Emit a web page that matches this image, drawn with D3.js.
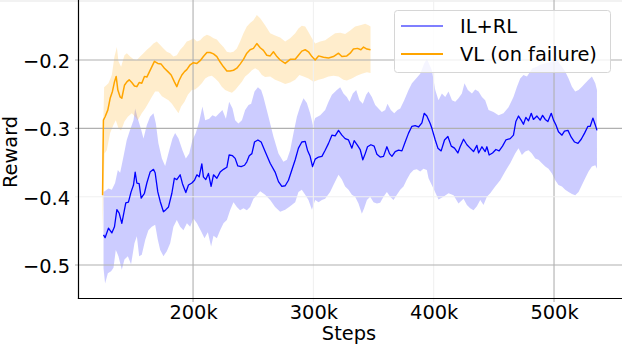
<!DOCTYPE html>
<html><head><meta charset="utf-8">
<script src="https://cdn.jsdelivr.net/npm/d3@7"></script>
<style>html,body{margin:0;padding:0;background:#fff;}svg{display:block;font-family:"DejaVu Sans",sans-serif;}</style>
</head><body><svg id="c" width="622" height="344"></svg>
<script>
// steps in thousands, reward
const xTicks = [200, 300, 400, 500];
const yTicks = [-0.5, -0.4, -0.3, -0.2];
const faintX = [300, 400];
const faintY = [-0.4];
const seriesNames = ["IL+RL", "VL (on failure)"];

const blueMean = [[125.6,-0.456],[126.9,-0.460],[129.7,-0.446],[132.5,-0.453],[134.7,-0.444],[136.7,-0.419],[138.6,-0.424],[140.8,-0.439],[144.1,-0.409],[146.3,-0.408],[148.5,-0.393],[150.5,-0.383],[151.9,-0.364],[153.3,-0.380],[155.2,-0.381],[156.9,-0.402],[159.6,-0.395],[161.6,-0.380],[164.3,-0.364],[167.1,-0.360],[168.5,-0.365],[170.7,-0.393],[172.7,-0.407],[175.4,-0.422],[177.4,-0.419],[179.6,-0.415],[182.4,-0.395],[184.5,-0.373],[186.5,-0.375],[189.3,-0.368],[191.2,-0.381],[194.0,-0.394],[196.2,-0.383],[199.0,-0.380],[201.2,-0.376],[203.2,-0.368],[205.1,-0.371],[207.3,-0.352],[208.6,-0.371],[210.6,-0.375],[212.8,-0.366],[215.0,-0.385],[217.0,-0.368],[219.8,-0.373],[222.5,-0.364],[225.3,-0.360],[228.1,-0.357],[230.0,-0.339],[232.8,-0.340],[235.0,-0.344],[237.2,-0.355],[240.0,-0.356],[242.8,-0.354],[244.7,-0.349],[246.7,-0.340],[248.9,-0.337],[251.1,-0.320],[253.9,-0.317],[256.6,-0.320],[259.9,-0.334],[264.1,-0.351],[268.2,-0.364],[271.0,-0.378],[273.8,-0.385],[276.6,-0.384],[279.3,-0.376],[282.1,-0.361],[284.9,-0.346],[287.6,-0.329],[290.4,-0.320],[293.2,-0.319],[295.1,-0.332],[297.3,-0.341],[299.3,-0.356],[301.5,-0.345],[304.3,-0.342],[307.1,-0.341],[309.8,-0.332],[312.6,-0.322],[315.4,-0.310],[318.1,-0.311],[320.9,-0.303],[323.7,-0.310],[326.4,-0.315],[329.2,-0.317],[332.0,-0.329],[333.9,-0.318],[336.7,-0.325],[338.9,-0.331],[341.1,-0.346],[343.1,-0.337],[345.0,-0.327],[347.8,-0.324],[350.5,-0.326],[352.8,-0.338],[355.5,-0.342],[358.3,-0.341],[361.1,-0.327],[363.3,-0.337],[365.3,-0.341],[368.0,-0.334],[370.8,-0.332],[373.6,-0.333],[376.3,-0.320],[379.1,-0.307],[381.9,-0.297],[384.6,-0.296],[387.4,-0.298],[390.2,-0.292],[392.1,-0.278],[394.3,-0.282],[397.1,-0.293],[398.5,-0.300],[401.3,-0.317],[403.5,-0.329],[406.2,-0.333],[409.0,-0.317],[411.8,-0.312],[414.6,-0.326],[417.3,-0.329],[420.1,-0.336],[422.0,-0.327],[424.8,-0.316],[427.6,-0.324],[430.3,-0.329],[433.1,-0.334],[435.9,-0.325],[437.3,-0.336],[440.1,-0.327],[442.8,-0.334],[444.2,-0.327],[446.1,-0.339],[448.9,-0.336],[451.7,-0.331],[454.4,-0.333],[457.2,-0.326],[460.0,-0.317],[463.6,-0.315],[466.3,-0.310],[468.3,-0.290],[470.5,-0.282],[472.7,-0.288],[474.6,-0.294],[476.6,-0.284],[478.8,-0.289],[481.1,-0.278],[482.9,-0.287],[485.8,-0.282],[488.5,-0.288],[490.5,-0.281],[492.7,-0.287],[494.9,-0.290],[497.7,-0.278],[499.6,-0.288],[501.6,-0.295],[503.7,-0.305],[506.6,-0.310],[508.7,-0.304],[511.6,-0.303],[514.3,-0.313],[517.1,-0.320],[519.9,-0.322],[522.6,-0.316],[525.4,-0.307],[528.2,-0.297],[530.1,-0.297],[532.3,-0.285],[534.3,-0.295],[535.7,-0.303]];

const blueUpper = [[125.6,-0.393],[129.7,-0.388],[132.5,-0.390],[135.2,-0.380],[137.5,-0.361],[139.4,-0.365],[142.1,-0.342],[144.9,-0.317],[147.7,-0.302],[150.5,-0.288],[151.9,-0.271],[154.1,-0.286],[156.9,-0.302],[158.8,-0.315],[161.6,-0.295],[164.3,-0.283],[167.1,-0.278],[169.1,-0.293],[171.2,-0.322],[174.1,-0.344],[176.8,-0.355],[180.2,-0.332],[182.9,-0.315],[185.1,-0.307],[187.9,-0.315],[191.2,-0.332],[194.0,-0.344],[196.8,-0.337],[199.5,-0.317],[202.3,-0.307],[205.1,-0.290],[207.8,-0.268],[210.1,-0.288],[213.4,-0.286],[216.1,-0.281],[218.9,-0.283],[221.7,-0.278],[224.4,-0.273],[227.3,-0.286],[230.0,-0.261],[232.8,-0.271],[235.0,-0.288],[237.7,-0.293],[240.6,-0.288],[243.3,-0.273],[246.1,-0.266],[248.3,-0.264],[251.1,-0.246],[253.9,-0.240],[256.6,-0.244],[258.5,-0.254],[262.7,-0.283],[266.8,-0.312],[271.0,-0.337],[275.1,-0.349],[278.0,-0.346],[280.7,-0.332],[283.5,-0.307],[286.3,-0.283],[289.0,-0.268],[291.8,-0.256],[294.6,-0.263],[297.3,-0.278],[299.6,-0.295],[301.5,-0.285],[305.7,-0.281],[309.8,-0.273],[312.6,-0.261],[315.4,-0.251],[319.5,-0.244],[322.3,-0.240],[325.0,-0.249],[327.8,-0.254],[330.0,-0.261],[332.8,-0.249],[335.6,-0.244],[338.3,-0.259],[341.1,-0.264],[343.9,-0.251],[345.8,-0.246],[348.6,-0.254],[351.4,-0.266],[354.1,-0.271],[356.9,-0.276],[359.7,-0.273],[361.6,-0.264],[364.4,-0.273],[367.2,-0.278],[369.9,-0.273],[372.2,-0.271],[375.5,-0.259],[379.1,-0.244],[381.9,-0.234],[385.4,-0.227],[388.8,-0.220],[392.1,-0.205],[394.3,-0.198],[398.5,-0.215],[401.3,-0.244],[404.0,-0.259],[406.8,-0.249],[409.6,-0.254],[412.3,-0.246],[415.2,-0.259],[417.9,-0.261],[420.6,-0.256],[423.4,-0.249],[425.6,-0.234],[428.4,-0.244],[431.8,-0.249],[434.5,-0.243],[437.3,-0.246],[440.1,-0.254],[442.8,-0.259],[445.6,-0.273],[449.7,-0.276],[453.9,-0.281],[458.0,-0.278],[462.2,-0.269],[466.3,-0.254],[469.2,-0.239],[471.9,-0.227],[474.6,-0.222],[477.5,-0.224],[480.2,-0.217],[482.1,-0.212],[485.8,-0.210],[488.5,-0.207],[492.7,-0.205],[496.8,-0.203],[502.4,-0.200],[506.6,-0.210],[509.3,-0.217],[512.1,-0.227],[514.9,-0.239],[517.6,-0.246],[520.4,-0.244],[523.2,-0.239],[525.9,-0.234],[528.7,-0.229],[531.5,-0.224],[534.3,-0.234],[535.7,-0.244]];

const blueLower = [[125.6,-0.505],[126.9,-0.527],[129.2,-0.512],[131.9,-0.509],[133.9,-0.504],[135.8,-0.478],[138.0,-0.487],[140.8,-0.507],[143.0,-0.492],[145.8,-0.487],[148.5,-0.499],[151.3,-0.468],[153.3,-0.458],[155.2,-0.487],[157.4,-0.485],[160.3,-0.463],[162.9,-0.449],[165.7,-0.444],[168.5,-0.441],[170.7,-0.463],[172.7,-0.478],[175.4,-0.487],[178.2,-0.480],[181.0,-0.468],[183.7,-0.444],[186.5,-0.434],[189.3,-0.444],[192.0,-0.449],[194.9,-0.439],[197.6,-0.444],[200.3,-0.432],[203.2,-0.439],[206.8,-0.451],[209.5,-0.461],[212.3,-0.452],[215.0,-0.473],[217.0,-0.457],[219.8,-0.461],[222.5,-0.449],[225.3,-0.439],[228.1,-0.434],[230.8,-0.420],[233.6,-0.408],[236.4,-0.415],[239.1,-0.420],[241.9,-0.417],[244.7,-0.420],[247.4,-0.415],[250.2,-0.403],[253.0,-0.398],[255.8,-0.392],[259.9,-0.397],[264.1,-0.405],[268.2,-0.415],[272.4,-0.422],[276.6,-0.419],[280.7,-0.414],[284.9,-0.408],[287.6,-0.393],[290.4,-0.390],[293.2,-0.397],[295.9,-0.405],[298.8,-0.419],[301.5,-0.405],[304.3,-0.408],[307.1,-0.405],[309.8,-0.403],[313.9,-0.393],[316.7,-0.383],[320.9,-0.368],[323.7,-0.375],[326.4,-0.385],[329.2,-0.390],[332.0,-0.397],[334.7,-0.400],[337.5,-0.410],[340.3,-0.425],[342.2,-0.417],[344.5,-0.405],[347.2,-0.400],[350.0,-0.408],[352.8,-0.410],[355.5,-0.409],[358.3,-0.400],[361.1,-0.393],[363.8,-0.400],[366.6,-0.405],[369.4,-0.397],[372.2,-0.390],[374.9,-0.385],[377.7,-0.375],[380.5,-0.366],[383.3,-0.361],[386.0,-0.360],[388.8,-0.363],[391.5,-0.359],[394.3,-0.361],[395.7,-0.373],[399.8,-0.388],[404.0,-0.404],[408.1,-0.400],[412.3,-0.395],[416.5,-0.398],[420.6,-0.410],[424.8,-0.403],[427.6,-0.412],[430.3,-0.417],[433.1,-0.420],[435.9,-0.414],[438.7,-0.405],[441.4,-0.412],[444.2,-0.400],[447.0,-0.395],[451.1,-0.385],[455.3,-0.376],[459.4,-0.363],[463.6,-0.351],[467.7,-0.337],[470.5,-0.329],[473.3,-0.339],[476.1,-0.334],[478.8,-0.332],[481.6,-0.337],[484.4,-0.344],[487.1,-0.346],[489.9,-0.351],[492.7,-0.356],[495.4,-0.359],[498.3,-0.366],[501.0,-0.376],[503.7,-0.383],[506.6,-0.385],[509.3,-0.390],[512.1,-0.393],[514.9,-0.396],[517.6,-0.398],[520.4,-0.393],[523.2,-0.383],[525.9,-0.373],[528.7,-0.363],[531.5,-0.356],[534.3,-0.354],[535.7,-0.359]];

const orangeMean = [[124.8,-0.398],[125.5,-0.288],[126.9,-0.283],[129.2,-0.273],[131.1,-0.256],[133.0,-0.246],[134.7,-0.232],[136.1,-0.224],[137.5,-0.244],[139.4,-0.254],[140.8,-0.256],[143.0,-0.237],[145.0,-0.232],[146.9,-0.229],[149.1,-0.233],[151.3,-0.238],[153.3,-0.239],[155.2,-0.233],[157.4,-0.234],[159.6,-0.224],[161.6,-0.225],[163.5,-0.218],[165.7,-0.210],[167.9,-0.202],[170.7,-0.205],[173.5,-0.206],[176.2,-0.212],[179.1,-0.217],[181.8,-0.222],[184.5,-0.232],[186.5,-0.239],[188.4,-0.230],[190.7,-0.222],[192.9,-0.217],[194.8,-0.214],[197.6,-0.207],[200.3,-0.204],[203.2,-0.205],[205.9,-0.201],[208.6,-0.195],[211.5,-0.189],[214.2,-0.189],[217.0,-0.191],[219.8,-0.195],[222.5,-0.203],[225.3,-0.210],[228.1,-0.216],[230.8,-0.216],[233.6,-0.215],[236.4,-0.212],[239.1,-0.206],[241.9,-0.199],[244.7,-0.190],[247.4,-0.185],[250.2,-0.183],[253.0,-0.176],[255.8,-0.182],[258.5,-0.186],[261.3,-0.193],[264.1,-0.194],[266.8,-0.188],[269.7,-0.195],[272.4,-0.200],[276.6,-0.205],[280.7,-0.199],[284.9,-0.199],[287.6,-0.193],[290.4,-0.187],[293.2,-0.185],[295.9,-0.188],[298.8,-0.195],[301.5,-0.200],[304.3,-0.194],[308.4,-0.196],[312.6,-0.197],[316.7,-0.195],[320.9,-0.190],[323.7,-0.195],[327.8,-0.194],[330.6,-0.190],[333.3,-0.184],[336.7,-0.183],[339.5,-0.185],[341.7,-0.181],[344.5,-0.184],[347.5,-0.185]];

const orangeUpper = [[124.8,-0.337],[126.1,-0.240],[129.7,-0.234],[132.5,-0.222],[134.7,-0.195],[136.7,-0.181],[138.0,-0.202],[140.2,-0.210],[143.0,-0.193],[145.0,-0.190],[147.7,-0.195],[150.5,-0.199],[153.3,-0.200],[156.0,-0.195],[158.8,-0.190],[161.6,-0.185],[164.3,-0.181],[167.1,-0.176],[169.9,-0.173],[172.7,-0.178],[175.4,-0.183],[178.2,-0.188],[181.0,-0.190],[183.7,-0.195],[186.5,-0.193],[189.3,-0.185],[192.0,-0.180],[194.8,-0.173],[197.6,-0.171],[200.3,-0.168],[203.2,-0.173],[205.9,-0.171],[208.6,-0.166],[211.5,-0.163],[214.2,-0.165],[217.0,-0.168],[219.8,-0.170],[222.5,-0.176],[225.3,-0.181],[228.1,-0.188],[230.8,-0.189],[233.6,-0.188],[236.4,-0.183],[239.1,-0.173],[241.9,-0.161],[244.7,-0.151],[247.4,-0.146],[250.2,-0.142],[253.0,-0.134],[255.8,-0.139],[259.9,-0.149],[264.1,-0.161],[268.2,-0.164],[272.4,-0.167],[276.6,-0.173],[280.7,-0.168],[284.9,-0.161],[287.6,-0.154],[290.4,-0.150],[293.2,-0.151],[295.9,-0.159],[298.8,-0.168],[301.5,-0.176],[305.7,-0.173],[309.8,-0.171],[313.9,-0.166],[318.1,-0.161],[322.3,-0.160],[326.4,-0.162],[330.6,-0.157],[334.7,-0.151],[338.9,-0.149],[343.1,-0.147],[345.8,-0.149],[347.5,-0.151]];

const orangeLower = [[124.8,-0.450],[126.4,-0.337],[128.3,-0.332],[131.1,-0.307],[133.8,-0.295],[135.8,-0.288],[138.0,-0.300],[140.2,-0.303],[143.0,-0.290],[145.8,-0.283],[149.1,-0.278],[151.9,-0.283],[154.1,-0.288],[157.4,-0.278],[160.2,-0.271],[162.9,-0.263],[165.7,-0.254],[168.5,-0.246],[171.2,-0.246],[174.1,-0.253],[176.8,-0.256],[179.6,-0.259],[182.4,-0.264],[185.1,-0.271],[187.9,-0.278],[190.1,-0.268],[192.9,-0.261],[195.7,-0.251],[199.0,-0.244],[201.7,-0.243],[204.5,-0.239],[207.3,-0.234],[210.1,-0.227],[212.8,-0.224],[215.6,-0.223],[218.4,-0.227],[221.1,-0.232],[223.9,-0.239],[226.7,-0.244],[229.4,-0.246],[232.3,-0.248],[235.0,-0.244],[237.7,-0.238],[240.6,-0.232],[243.3,-0.224],[246.1,-0.220],[248.9,-0.215],[251.6,-0.212],[254.4,-0.215],[257.2,-0.222],[259.9,-0.225],[264.1,-0.224],[268.2,-0.229],[272.4,-0.232],[276.6,-0.235],[280.7,-0.233],[284.9,-0.229],[288.4,-0.222],[291.8,-0.224],[295.9,-0.227],[300.1,-0.232],[304.3,-0.229],[308.4,-0.227],[312.6,-0.224],[316.7,-0.223],[320.9,-0.224],[325.0,-0.229],[327.8,-0.230],[332.0,-0.227],[336.1,-0.223],[340.3,-0.220],[344.5,-0.218],[347.5,-0.219]];

const W = 622, H = 344;
const margin = {left: 78.5, right: 0, top: 0, bottom: 45.5};
const svg = d3.select("#c");
const x = d3.scaleLinear().domain([104.8, 556.5]).range([margin.left, W - margin.right]);
const y = d3.scaleLinear().domain([-0.549, -0.1122]).range([H - margin.bottom, margin.top]);

// top light band
svg.append("rect").attr("x", 0).attr("y", 0).attr("width", W).attr("height", 2).attr("fill", "#f2f2f2");

const line = d3.line().x(d => x(d[0])).y(d => y(d[1]));
function band(up, lo) { return line(up.concat(lo.slice().reverse())) + "Z"; }

// fills
svg.append("path").attr("d", band(blueUpper, blueLower)).attr("fill", "rgba(0,0,255,0.2)").attr("stroke", "none");
svg.append("path").attr("d", band(orangeUpper, orangeLower)).attr("fill", "rgba(255,165,0,0.2)").attr("stroke", "none");

// gridlines
const gridStrong = "#b0b0b0", gridFaint = "#f0f0f0";
const g = svg.append("g");
xTicks.forEach(t => {
  const c = faintX.includes(t) ? gridFaint : gridStrong;
  g.append("line").attr("x1", x(t)).attr("x2", x(t)).attr("y1", 0).attr("y2", y.range()[0] + 3.5)
    .attr("stroke", c).attr("stroke-width", 1.1);
});
yTicks.forEach(t => {
  const c = faintY.includes(t) ? gridFaint : gridStrong;
  g.append("line").attr("x1", margin.left - 3.5).attr("x2", W).attr("y1", y(t)).attr("y2", y(t))
    .attr("stroke", c).attr("stroke-width", 1.1);
});

// lines
svg.append("path").attr("d", line(blueMean)).attr("fill", "none").attr("stroke", "#0000ff").attr("stroke-width", 1.3).attr("stroke-linejoin", "round");
svg.append("path").attr("d", line(orangeMean)).attr("fill", "none").attr("stroke", "#ffa500").attr("stroke-width", 1.5).attr("stroke-linejoin", "round");

// axes
const xAxis = d3.axisBottom(x).tickValues(xTicks).tickSize(0).tickPadding(0).tickFormat(d => d + "k");
const ax = svg.append("g").attr("transform", `translate(0,${y.range()[0]})`).call(xAxis);
ax.select(".domain").remove();
ax.selectAll("text").attr("font-size", "19.4px").attr("font-family", "DejaVu Sans").attr("fill", "#000").attr("dy", null).attr("y", 20.5);
const yAxis = d3.axisLeft(y).tickValues(yTicks).tickSize(0).tickPadding(8.5).tickFormat(d => d3.format(".1f")(d).replace("-", "\u2212"));
const ay = svg.append("g").attr("transform", `translate(${margin.left},0)`).call(yAxis);
ay.select(".domain").remove();
ay.selectAll("text").attr("font-size", "19.4px").attr("font-family", "DejaVu Sans").attr("fill", "#000").attr("dy", "0.38em");

// spines
svg.append("line").attr("x1", margin.left).attr("x2", margin.left).attr("y1", 0).attr("y2", y.range()[0] + 0.6).attr("stroke", "#000").attr("stroke-width", 1.2);
svg.append("line").attr("x1", margin.left - 0.6).attr("x2", W).attr("y1", y.range()[0]).attr("y2", y.range()[0]).attr("stroke", "#000").attr("stroke-width", 1.2);

// axis titles
svg.append("text").attr("x", 349).attr("y", 340).attr("text-anchor", "middle").attr("font-size", "19.4px").text("Steps");
svg.append("text").attr("transform", "translate(16.5,152) rotate(-90)").attr("text-anchor", "middle").attr("font-size", "19.4px").text("Reward");

// legend
const lg = svg.append("g");
lg.append("rect").attr("x", 394.5).attr("y", 10.5).attr("width", 216).attr("height", 62).attr("rx", 3)
  .attr("fill", "rgba(255,255,255,0.8)").attr("stroke", "#d6d6d6").attr("stroke-width", 1);
const legendColors = ["#0000ff", "#ffa500"];
const legendWidths = [1.2, 1.8];
seriesNames.forEach((n, i) => {
  const yy = 26 + i * 28;
  lg.append("line").attr("x1", 401).attr("x2", 443).attr("y1", yy).attr("y2", yy).attr("stroke", legendColors[i]).attr("stroke-width", legendWidths[i]);
  lg.append("text").attr("x", 460).attr("y", yy + 7).attr("font-size", "19.4px").attr("fill", "#000").text(n);
});
</script></body></html>
